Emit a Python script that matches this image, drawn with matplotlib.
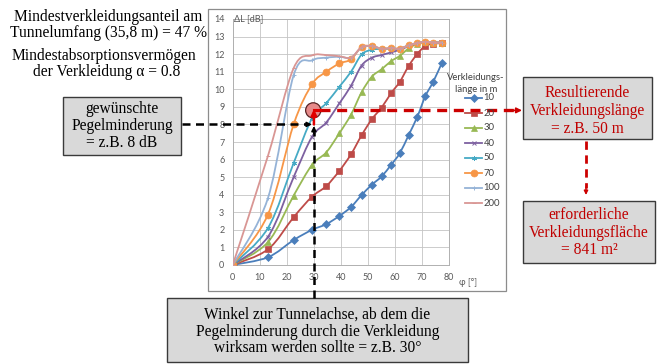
import numpy as np
import matplotlib
matplotlib.use("Agg")
import matplotlib.pyplot as plt
from matplotlib.path import Path
from matplotlib.patches import PathPatch, Rectangle, Circle
from matplotlib.lines import Line2D

# ---------------- data ----------------
phi = [0, 13.0, 22.5, 29.3, 34.5, 39.4, 43.7, 47.6, 51.4, 55.0, 58.5, 61.7, 65.0, 68.2, 71.1, 74.1, 77.2]
dL_10 = [0, 0.44, 1.42, 2.0, 2.32, 2.79, 3.3, 3.98, 4.57, 5.04, 5.7, 6.36, 7.4, 8.44, 9.59, 10.44, 11.48]
dL_20 = [0, 0.89, 2.72, 3.89, 4.48, 5.36, 6.3, 7.38, 8.3, 8.96, 9.78, 10.42, 11.33, 12.02, 12.46, 12.6, 12.62]
dL_30 = [0, 1.3, 3.95, 5.7, 6.4, 7.5, 8.56, 9.83, 10.72, 11.14, 11.6, 11.9, 12.33, 12.6, 12.68, 12.66, 12.66]
dL_40 = [0, 1.6, 5.0, 7.3, 8.1, 9.2, 10.2, 11.35, 11.8, 11.95, 12.1, 12.25, 12.45, 12.62, 12.7, 12.66, 12.66]
dL_50 = [0, 2.1, 5.8, 8.35, 9.2, 10.15, 11.0, 11.98, 12.25, 12.3, 12.3, 12.3, 12.5, 12.63, 12.7, 12.66, 12.66]
dL_70 = [0, 2.87, 8.0, 10.28, 10.99, 11.47, 11.7, 12.4, 12.46, 12.31, 12.34, 12.31, 12.5, 12.63, 12.7, 12.66, 12.66]
dL_100 = [0, 3.8, 10.8, 11.65, 11.8, 11.85, 11.8, 12.38, 12.46, 12.31, 12.34, 12.31, 12.5, 12.63, 12.7, 12.66, 12.66]
dL_200 = [0, 6.2, 11.2, 11.93, 11.95, 11.88, 11.8, 12.4, 12.46, 12.31, 12.34, 12.31, 12.5, 12.63, 12.7, 12.66, 12.66]
lengths = ["10", "20", "30", "40", "50", "70", "100", "200"]
series = [dL_10, dL_20, dL_30, dL_40, dL_50, dL_70, dL_100, dL_200]

x_ticks = list(range(0, 81, 10))
y_ticks = list(range(0, 15))

target_phi = 30
target_dL = 8
circle_dL = 8.8

# ---------------- styles ----------------
colors = ["#4a7ebb", "#be4b48", "#98b954", "#7d60a0", "#46aac5", "#f79646", "#95b3d7", "#d99694"]
markers = ["D", "s", "^", "x", (6, 2, 0), "o", "+", "_"]
msizes = [3.8, 4.8, 5.0, 3.2, 3.6, 5.0, 3.4, 3.4]
mews = [0.5, 0.5, 0.5, 0.7, 0.7, 0.5, 0.7, 0.7]

plt.rcParams["font.family"] = ["Lato", "DejaVu Sans"]
W, H = 663, 364
fig = plt.figure(figsize=(W / 100, H / 100), dpi=100)

# chart area frame
fig.patches.append(Rectangle((208 / W, 1 - 291 / H), (506 - 208) / W, (291 - 9) / H,
                             transform=fig.transFigure, facecolor="white",
                             edgecolor="#8c8c8c", lw=0.9, zorder=-5))

ax = fig.add_axes([232.7 / W, 1 - 265 / H, 216.6 / W, 246 / H], zorder=1)
ax.patch.set_alpha(0)
ax.set_xlim(0, 80)
ax.set_ylim(0, 14)
ax.set_xticks(x_ticks)
ax.set_yticks(y_ticks)
ax.grid(True, color="#c4c4c4", lw=0.6)
ax.set_axisbelow(True)
for s in ax.spines.values():
    s.set_color("#b0b0b0")
    s.set_linewidth(0.7)
ax.tick_params(length=0, labelsize=6.5, labelcolor="#595959", pad=6)


def smooth_path(xs, ys):
    pts = np.column_stack([xs, ys]).astype(float)
    n = len(pts)
    verts = [pts[0]]
    codes = [Path.MOVETO]
    for i in range(n - 1):
        p0 = pts[max(i - 1, 0)]
        p1 = pts[i]
        p2 = pts[i + 1]
        p3 = pts[min(i + 2, n - 1)]
        c1 = p1 + (p2 - p0) / 6.0
        c2 = p2 - (p3 - p1) / 6.0
        verts += [c1, c2, p2]
        codes += [Path.CURVE4] * 3
    return Path(verts, codes)


for k, (ys, c, m, ms, mw) in enumerate(zip(series, colors, markers, msizes, mews)):
    ax.add_patch(PathPatch(smooth_path(phi, ys), fill=False, edgecolor=c, lw=1.3, zorder=3 + k))
    ax.plot(phi, ys, ls="none", marker=m, ms=ms, color=c, mec=c, mew=mw, zorder=3 + k)

ax.text(0.6, 14, "ΔL [dB]", fontsize=6.5, color="#595959", ha="left", va="center")
ax.text(83.5, -1.0, "φ [°]", fontsize=6.5, color="#595959", ha="left", va="center", clip_on=False)

# ---------------- overlay (pixel coordinates) ----------------
ov = fig.add_axes([0, 0, 1, 1], zorder=10)
ov.set_xlim(0, W)
ov.set_ylim(H, 0)
ov.axis("off")
ov.patch.set_alpha(0)


def d2o(x, y):
    dx, dy = ax.transData.transform((x, y))
    return dx, H - dy


# legend
ov.text(476, 78, "Verkleidungs-", fontsize=6.8, color="#404040", ha="center", va="center")
ov.text(476, 89, "länge in m", fontsize=6.8, color="#404040", ha="center", va="center")
for i, (lab, c, m, ms, mw) in enumerate(zip(lengths, colors, markers, msizes, mews)):
    yy = 98 + 15 * i
    ov.add_line(Line2D([465, 482], [yy, yy], color=c, lw=1.3))
    ov.add_line(Line2D([473.5], [yy], ls="none", marker=m, ms=ms, color=c, mec=c, mew=mw))
    ov.text(483.5, yy, lab, fontsize=6.8, color="#404040", ha="left", va="center")

serif = ["Liberation Serif", "DejaVu Serif"]
red = "#c00000"
fs = 11.2

# left texts
ov.text(108.5, 17, "Mindestverkleidungsanteil am", family=serif, fontsize=fs, ha="center", va="center")
ov.text(109, 33, "Tunnelumfang (35,8 m) = 47 %", family=serif, fontsize=fs, ha="center", va="center")
ov.text(104, 56, "Mindestabsorptionsvermögen", family=serif, fontsize=fs, ha="center", va="center")
ov.text(107, 72, "der Verkleidung α = 0.8", family=serif, fontsize=fs, ha="center", va="center")


def box(x0, y0, x1, y1, lines, ys, color="black"):
    ov.add_patch(Rectangle((x0, y0), x1 - x0, y1 - y0, facecolor="#d9d9d9",
                           edgecolor="#3a3a3a", lw=1.0))
    cx = (x0 + x1) / 2
    for t, yy in zip(lines, ys):
        ov.text(cx, yy, t, family=serif, fontsize=fs, ha="center", va="center", color=color)


box(63, 97, 181, 155, ["gewünschte", "Pegelminderung", "= z.B. 8 dB"], [109, 126, 143])
box(523, 77, 652, 139, ["Resultierende", "Verkleidungslänge", "= z.B. 50 m"], [93, 111, 129], red)
box(523, 201, 655, 263, ["erforderliche", "Verkleidungsfläche", "= 841 m²"], [215, 233, 250], red)
box(167, 298, 468, 362, ["Winkel zur Tunnelachse, ab dem die",
                         "Pegelminderung durch die Verkleidung",
                         "wirksam werden sollte = z.B. 30°"], [315, 332, 348])

# black dashed arrows
tx, ty = d2o(target_phi, target_dL)
_, cy = d2o(target_phi, circle_dL)
dash_k = (0, (3.2, 2.2))
ov.plot([182, tx - 8], [ty, ty], color="black", lw=1.8, ls=dash_k, solid_capstyle="butt")
ov.annotate("", xy=(tx - 2, ty), xytext=(tx - 9, ty),
            arrowprops=dict(arrowstyle="-|>", color="black", lw=1.2, mutation_scale=7,
                            shrinkA=0, shrinkB=0))
ov.plot([tx, tx], [298, ty + 8], color="black", lw=1.8, ls=dash_k, solid_capstyle="butt")
ov.annotate("", xy=(tx, ty + 1.5), xytext=(tx, ty + 9),
            arrowprops=dict(arrowstyle="-|>", color="black", lw=1.2, mutation_scale=7,
                            shrinkA=0, shrinkB=0))

# circle marker and red arrows
ov.add_patch(Circle((tx - 0.7, cy), 7.6, facecolor="#e68a8a", edgecolor="#5a2424", lw=0.9, zorder=5))
ov.annotate("", xy=(tx, cy - 1), xytext=(tx, ty),
            arrowprops=dict(arrowstyle="-|>", color="#e00000", lw=1.8, mutation_scale=8,
                            shrinkA=0, shrinkB=0), zorder=6)
ov.plot([tx, 320], [cy, cy], color="#e00000", lw=2.2, zorder=6)
dash_r = (0, (3.0, 2.0))
ov.plot([320, 514], [cy, cy], color="#cc0000", lw=2.4, ls=dash_r, solid_capstyle="butt")
ov.annotate("", xy=(522, cy), xytext=(513, cy),
            arrowprops=dict(arrowstyle="-|>", color="#cc0000", lw=1.2, mutation_scale=8,
                            shrinkA=0, shrinkB=0))
ov.plot([586, 586], [141, 188], color="#cc0000", lw=2.0, ls=dash_r, solid_capstyle="butt")
ov.annotate("", xy=(586, 195), xytext=(586, 187),
            arrowprops=dict(arrowstyle="-|>", color="#cc0000", lw=1.0, mutation_scale=6,
                            shrinkA=0, shrinkB=0))

fig.savefig("out.png", dpi=100)
